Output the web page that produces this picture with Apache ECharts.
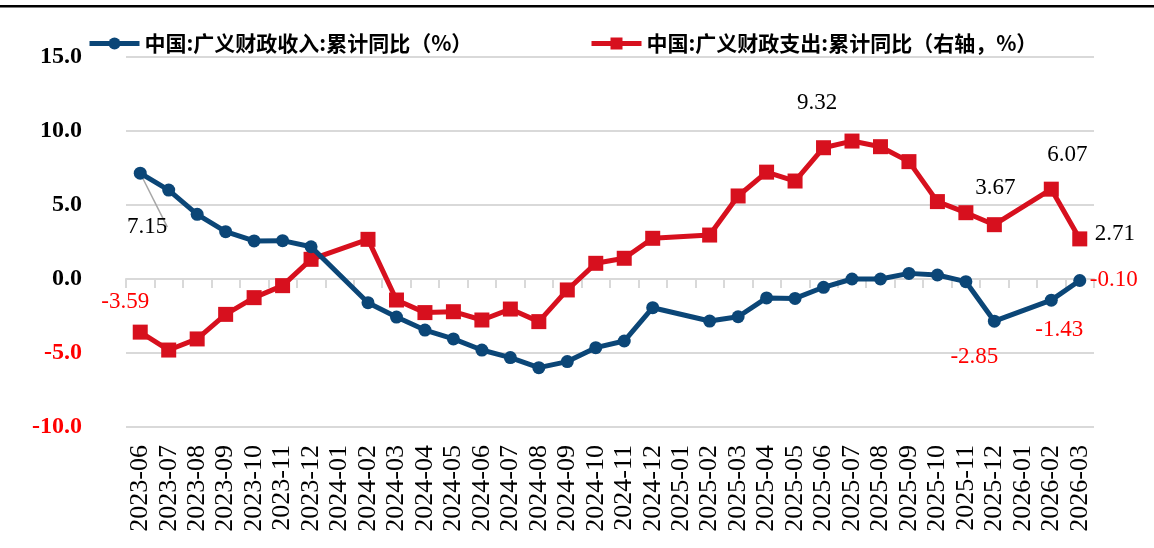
<!DOCTYPE html>
<html>
<head>
<meta charset="utf-8">
<title>广义财政收支累计同比</title>
<script src="https://cdn.jsdelivr.net/npm/echarts@6/dist/echarts.min.js"></script>
<style>
  html, body { margin: 0; padding: 0; background: #fff; }
  #chart { width: 1154px; height: 548px; }
</style>
</head>
<body>
<div id="chart"></div>
<script>
// 月份（缺失月份为 null，折线跨过去连接）
var months = [
  '2023-06', '2023-07', '2023-08', '2023-09', '2023-10', '2023-11', '2023-12',
  '2024-01', '2024-02', '2024-03', '2024-04', '2024-05', '2024-06', '2024-07',
  '2024-08', '2024-09', '2024-10', '2024-11', '2024-12', '2025-01', '2025-02',
  '2025-03', '2025-04', '2025-05', '2025-06', '2025-07', '2025-08', '2025-09',
  '2025-10', '2025-11', '2025-12', '2026-01', '2026-02', '2026-03'
];

// 中国:广义财政收入:累计同比（%）
var revenue = [
  7.15, 6.01, 4.37, 3.20, 2.57, 2.59, 2.18,
  null, -1.60, -2.57, -3.45, -4.05, -4.80, -5.31,
  -5.99, -5.58, -4.64, -4.19, -1.94, null, -2.84,
  -2.55, -1.28, -1.31, -0.56, 0.00, 0.00, 0.38,
  0.27, -0.18, -2.85, null, -1.43, -0.10
];

// 中国:广义财政支出:累计同比（右轴，%）
var expenditure = [
  -3.59, -4.80, -4.05, -2.39, -1.26, -0.45, 1.33,
  null, 2.68, -1.42, -2.27, -2.21, -2.77, -2.03,
  -2.88, -0.74, 1.06, 1.40, 2.75, null, 2.97,
  5.61, 7.22, 6.62, 8.87, 9.32, 8.94, 7.93,
  5.23, 4.48, 3.67, null, 6.07, 2.71
];

var yTicks = [-10, -5, 0, 5, 10, 15];

var nameRev = '中国:广义财政收入:累计同比（%）';
var nameExp = '中国:广义财政支出:累计同比（右轴，%）';

// 哪些点标数值，以及标签相对数据点中心的偏移
var revLabels = { 0: [7, 54], 30: [-20, 36], 32: [8, 30], 33: [34, -1] };
var expLabels = { 0: [-15, -30], 25: [-35, -38], 30: [1, -37], 32: [16, -34], 33: [35, -5] };

(function () {
  'use strict';

  var BLUE = '#0b4677';
  var RED = '#d7101e';
  var SERIF = '"Liberation Serif", "Times New Roman", serif';
  var CJK = '"Noto Sans CJK SC", "Liberation Serif", sans-serif';

  function buildData(values, labels) {
    return values.map(function (v, i) {
      var off = labels[i];
      if (!off || v === null) return v;
      return {
        value: v,
        label: {
          show: true,
          position: 'inside',
          offset: off,
          formatter: function (p) { return Number(p.value).toFixed(2); },
          color: v < 0 ? '#ff0000' : '#000000',
          fontFamily: SERIF,
          fontSize: 23
        }
      };
    });
  }

  var revData = buildData(revenue, revLabels);
  var expData = buildData(expenditure, expLabels);
  // 7.15 的引导线
  revData[0].labelLine = { show: true, lineStyle: { color: '#a6a6a6', width: 1.5 } };

  var chart = echarts.init(document.getElementById('chart'));

  var legendText = { fontFamily: CJK, fontSize: 21, fontWeight: 'bold', color: '#000' };

  var option = {
    animation: false,
    backgroundColor: '#ffffff',
    graphic: [{
      type: 'rect',
      left: 0,
      top: 5,
      shape: { width: 1154, height: 2.5 },
      style: { fill: '#000000' }
    }],
    legend: [{
      data: [nameRev],
      left: 82,
      top: 28,
      itemWidth: 50,
      itemHeight: 15,
      lineStyle: { width: 5 },
      textStyle: legendText
    }, {
      data: [nameExp],
      left: 584,
      top: 28,
      itemWidth: 50,
      itemHeight: 15,
      lineStyle: { width: 5 },
      textStyle: legendText
    }],
    grid: {
      left: 126,
      right: 60,
      top: 57,
      bottom: 121
    },
    xAxis: [{
      type: 'category',
      data: months,
      position: 'bottom',
      boundaryGap: true,
      axisLine: { show: false, onZero: false },
      axisTick: { show: false },
      axisLabel: {
        rotate: 90,
        margin: 18,
        interval: 0,
        fontFamily: SERIF,
        fontSize: 26,
        color: '#000'
      },
      splitLine: { show: false }
    }, {
      type: 'category',
      data: months,
      position: 'bottom',
      boundaryGap: true,
      axisLine: { show: true, onZero: true, onZeroAxisIndex: 0, lineStyle: { color: '#d9d9d9', width: 2 } },
      axisTick: { show: true, length: 9, interval: 0, lineStyle: { color: '#d9d9d9', width: 2 } },
      axisLabel: { show: false },
      splitLine: { show: false }
    }],
    yAxis: [{
      type: 'value',
      min: yTicks[0],
      max: yTicks[yTicks.length - 1],
      interval: 5,
      axisLine: { show: false },
      axisTick: { show: false },
      axisLabel: {
        margin: 44,
        fontFamily: SERIF,
        fontSize: 24,
        fontWeight: 'bold',
        formatter: function (v) { return v.toFixed(1); },
        color: function (v) { return Number(v) < 0 ? '#ff0000' : '#000000'; }
      },
      splitLine: { lineStyle: { color: '#d9d9d9', width: 2 } }
    }, {
      type: 'value',
      min: yTicks[0],
      max: yTicks[yTicks.length - 1],
      interval: 5,
      position: 'right',
      axisLine: { show: false },
      axisTick: { show: false },
      axisLabel: { show: false },
      splitLine: { show: false }
    }],
    series: [{
      name: nameRev,
      type: 'line',
      xAxisIndex: 0,
      yAxisIndex: 0,
      data: revData,
      connectNulls: true,
      symbol: 'circle',
      symbolSize: 13,
      z: 3,
      itemStyle: { color: BLUE },
      lineStyle: { color: BLUE, width: 5 },
      label: { show: false }
    }, {
      name: nameExp,
      type: 'line',
      xAxisIndex: 0,
      yAxisIndex: 1,
      data: expData,
      connectNulls: true,
      symbol: 'rect',
      symbolSize: 15,
      z: 2,
      itemStyle: { color: RED },
      lineStyle: { color: RED, width: 5 },
      label: { show: false }
    }]
  };

  chart.setOption(option);

  window.addEventListener('resize', function () {
    chart.resize();
  });
})();
</script>
</body>
</html>
